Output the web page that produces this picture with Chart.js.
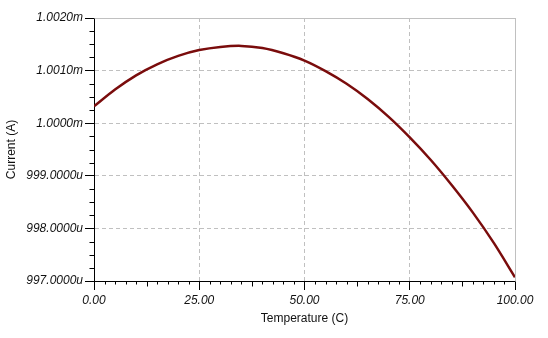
<!DOCTYPE html>
<html>
<head>
<meta charset="utf-8">
<script src="https://cdn.jsdelivr.net/npm/chart.js@4.4.0/dist/chart.umd.min.js"></script>
<style>
    html, body { margin: 0; padding: 0; background: #ffffff; }
    #wrap { width: 548px; height: 338px; }
</style>
</head>
<body>
<div id="wrap"><canvas id="currentChart" width="548" height="338"></canvas></div>
<script>
// Temperature sweep (C) and current (in uA)
const temperatures = [0, 5, 10, 15, 20, 25, 30, 35, 40, 45, 50, 55, 60, 65, 70, 75, 80, 85, 90, 95, 100];
const currentMicroA = [1000.32, 1000.64, 1000.91, 1001.12, 1001.28, 1001.39, 1001.45, 1001.47, 1001.43, 1001.33,
    1001.19, 1000.99, 1000.75, 1000.46, 1000.12, 999.73, 999.30, 998.82, 998.30, 997.72, 997.07];
const xTicks = [0, 25, 50, 75, 100];
const yTicks = [997, 998, 999, 1000, 1001, 1002];

const tickFont = { family: '"Liberation Sans", Arial, sans-serif', size: 12, style: 'italic' };
const titleFont = { family: '"Liberation Sans", Arial, sans-serif', size: 12 };

function formatCurrent(v) {
    if (v >= 1000) return (v / 1000).toFixed(4) + 'm';
    return v.toFixed(4) + 'u';
}

// minor ticks + gray frame on top/right
const frameAndMinorTicks = {
    id: 'frameAndMinorTicks',
    afterDraw(chart) {
        const ctx = chart.ctx;
        const area = chart.chartArea;
        const xs = chart.scales.x;
        const ys = chart.scales.y;
        const left = Math.round(area.left) + 0.5;
        const bottom = Math.round(area.bottom) + 0.5;
        ctx.save();
        ctx.lineWidth = 1;
        ctx.strokeStyle = '#c0c0c0';
        ctx.beginPath();
        ctx.moveTo(left, Math.round(area.top) + 0.5);
        ctx.lineTo(Math.round(area.right) + 0.5, Math.round(area.top) + 0.5);
        ctx.lineTo(Math.round(area.right) + 0.5, bottom);
        ctx.stroke();

        ctx.strokeStyle = '#000000';
        ctx.beginPath();
        for (let i = 1; i < yTicks.length; i++) {
            const step = (yTicks[i] - yTicks[i - 1]) / 4;
            for (let k = 1; k < 4; k++) {
                const y = Math.round(ys.getPixelForValue(yTicks[i - 1] + step * k)) + 0.5;
                ctx.moveTo(left - 5, y);
                ctx.lineTo(left, y);
            }
        }
        for (let i = 1; i < xTicks.length; i++) {
            const step = (xTicks[i] - xTicks[i - 1]) / 10;
            for (let k = 1; k < 10; k++) {
                const x = Math.round(xs.getPixelForValue(xTicks[i - 1] + step * k)) + 0.5;
                ctx.moveTo(x, bottom);
                ctx.lineTo(x, bottom + (k === 5 ? 5 : 3));
            }
        }
        ctx.stroke();
        ctx.restore();
    }
};

new Chart(document.getElementById('currentChart'), {
    type: 'line',
    data: {
        datasets: [{
            data: temperatures.map((t, i) => ({ x: t, y: currentMicroA[i] })),
            borderColor: '#7a0c0c',
            borderWidth: 2.5,
            pointRadius: 0,
            tension: 0.3,
            fill: false
        }]
    },
    options: {
        responsive: false,
        animation: false,
        layout: { padding: { top: 18, right: 33, left: 0, bottom: 0 } },
        plugins: {
            legend: { display: false },
            tooltip: { enabled: false }
        },
        scales: {
            x: {
                type: 'linear',
                min: 0,
                max: 100,
                afterFit: scale => { scale.height = 57; },
                afterBuildTicks: scale => { scale.ticks = xTicks.map(v => ({ value: v })); },
                ticks: {
                    font: tickFont,
                    color: '#111111',
                    padding: 3,
                    maxRotation: 0,
                    callback: v => Number(v).toFixed(2)
                },
                grid: {
                    color: '#c0c0c0',
                    tickColor: '#000000',
                    tickLength: 9,
                    tickBorderDash: []
                },
                border: { color: '#000000', width: 1, dash: [4, 3] },
                title: {
                    display: true,
                    text: 'Temperature (C)',
                    font: titleFont,
                    color: '#111111',
                    padding: { top: 0, bottom: 12 }
                }
            },
            y: {
                type: 'linear',
                min: 997,
                max: 1002,
                afterFit: scale => { scale.width = 94; },
                afterBuildTicks: scale => { scale.ticks = yTicks.map(v => ({ value: v })); },
                ticks: {
                    font: tickFont,
                    color: '#111111',
                    padding: 2,
                    callback: v => formatCurrent(Number(v))
                },
                grid: {
                    color: '#c0c0c0',
                    tickColor: '#000000',
                    tickLength: 9,
                    tickBorderDash: []
                },
                border: { color: '#000000', width: 1, dash: [4, 3] },
                title: {
                    display: true,
                    text: 'Current (A)',
                    font: titleFont,
                    color: '#111111',
                    padding: { top: 4, bottom: 0 }
                }
            }
        }
    },
    plugins: [frameAndMinorTicks]
});
</script>
</body>
</html>
